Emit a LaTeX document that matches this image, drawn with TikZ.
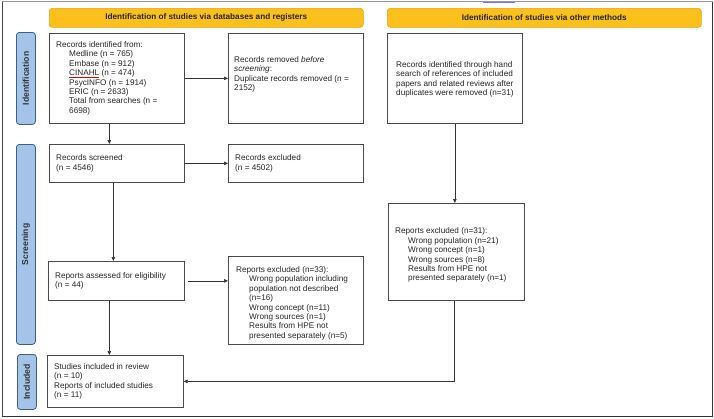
\documentclass[tikz,border=0pt]{standalone}
\usepackage{fontspec}
\setmainfont{Liberation Sans}
\usetikzlibrary{arrows.meta,calc}
\definecolor{banfill}{HTML}{FBC01C}
\definecolor{banedge}{HTML}{E2A60E}
\definecolor{sidefill}{HTML}{A3C4E8}
\definecolor{sideedge}{HTML}{3F5F80}
\definecolor{boxedge}{HTML}{4A4A4A}
\newcommand\redul[1]{\setbox0\hbox{#1}\rlap{\textcolor{red!85!black}{\rule[-1.4pt]{\wd0}{0.6pt}}}#1}
\newcommand\ind{\hspace*{13pt}}
\tikzset{
  txt/.style={font=\fontsize{8.2}{9.4}\selectfont},
  banner/.style={draw=banedge, fill=banfill, rounded corners=3pt, line width=0.6pt,
    anchor=north west, inner sep=0pt, font=\fontsize{8.2}{9}\selectfont\bfseries, text=black!85},
  side/.style={draw=sideedge, fill=sidefill, rounded corners=3pt, line width=0.8pt,
    anchor=north west, inner sep=0pt},
  sidetxt/.style={rotate=90, font=\fontsize{8.6}{9}\selectfont\bfseries, text=black!80},
  flowbox/.style={draw=boxedge, line width=0.7pt, anchor=north west, inner sep=0pt, txt, text=black!80},
  inner/.style={anchor=west, align=left, inner sep=0pt, txt, text=black!85},
  arr/.style={draw=black!80, line width=0.7pt, -{Triangle[length=4pt,width=3.5pt]}},
  conn/.style={draw=black!70, line width=0.7pt}
}
\begin{document}
\begin{tikzpicture}[x=1pt,y=-1pt]
\useasboundingbox (0,0) rectangle (714,418);
% outer frame
\draw[black!40, line width=0.5pt] (2,1.5) -- (712.5,1.5);
\draw[black!75, line width=0.8pt] (2,1.5) -- (2,416.3);
\draw[black!80, line width=1.4pt] (712.6,1.5) -- (712.6,416.5) -- (2,416.5);
\draw[blue!55, line width=0.7pt] (483,2.2) -- (515,2.2);

% banners
\node[banner, minimum width=314pt, minimum height=19pt] (ban1) at (49,8) {Identification of studies via databases and registers};
\node[banner, minimum width=314pt, minimum height=19pt] (ban2) at (387,8) {Identification of studies via other methods};

% side labels
\node[side, minimum width=19pt, minimum height=92pt] (sid) at (16,32) {};
\node[sidetxt] (sidt) at (sid.center) {Identification};
\node[side, minimum width=19pt, minimum height=200pt] (sscr) at (16,144) {};
\node[sidetxt] (sscrt) at (sscr.center) {Screening};
\node[side, minimum width=19pt, minimum height=55pt] (sinc) at (17,354) {};
\node[sidetxt] (sinct) at (sinc.center) {Included};

% boxes
\node[flowbox, minimum width=135pt, minimum height=90pt] (b1) at (49,33) {};
\node[inner] (b1t) at ([xshift=7pt]b1.west) {Records identified from:\\
\ind Medline (n = 765)\\
\ind Embase (n = 912)\\
\ind \redul{CINAHL} (n = 474)\\
\ind PsycINFO (n = 1914)\\
\ind ERIC (n = 2633)\\
\ind Total from searches (n =\\
\ind 6698)};

\node[flowbox, minimum width=134.5pt, minimum height=90pt] (b2) at (228,33) {};
\node[inner] (b2t) at ([xshift=6pt,yshift=4pt]b2.west) {Records removed \textit{before}\\
\textit{screening}:\\
Duplicate records removed (n =\\
2152)};

\node[flowbox, minimum width=135pt, minimum height=90pt] (hs) at (387,33) {};
\node[inner] (hst) at ([xshift=9pt,yshift=-1pt]hs.west) {Records identified through hand\\
search of references of included\\
papers and related reviews after\\
duplicates were removed (n=31)};

\node[flowbox, minimum width=135pt, minimum height=38pt] (scr) at (49,144) {};
\node[inner] (scrt) at ([xshift=7pt]scr.west) {Records screened\\(n = 4546)};

\node[flowbox, minimum width=134.5pt, minimum height=38pt] (rex) at (228,144) {};
\node[inner] (rext) at ([xshift=7pt]rex.west) {Records excluded\\(n = 4502)};

\node[flowbox, minimum width=136pt, minimum height=39pt] (asm) at (48,261) {};
\node[inner] (asmt) at ([xshift=7pt]asm.west) {Reports assessed for eligibility\\(n = 44)};

\node[flowbox, minimum width=134.5pt, minimum height=88pt] (rx33) at (228,256) {};
\node[inner] (rx33t) at ([xshift=8pt,yshift=-3pt]rx33.west) {Reports excluded (n=33):\\
\ind Wrong population including\\
\ind population not described\\
\ind (n=16)\\
\ind Wrong concept (n=11)\\
\ind Wrong sources (n=1)\\
\ind Results from HPE not\\
\ind presented separately (n=5)};

\node[flowbox, minimum width=136pt, minimum height=97pt] (rx31) at (388,203) {};
\node[inner] (rx31t) at ([xshift=7pt,yshift=-3.5pt]rx31.west) {Reports excluded (n=31):\\
\ind Wrong population (n=21)\\
\ind Wrong concept (n=1)\\
\ind Wrong sources (n=8)\\
\ind Results from HPE not\\
\ind presented separately (n=1)};

\node[flowbox, minimum width=136pt, minimum height=52pt] (inc) at (47,355) {};
\node[inner] (inct) at ([xshift=7pt]inc.west) {Studies included in review\\
(n = 10)\\
Reports of included studies\\
(n = 11)};

% connectors
\draw[arr] (b1.east) -- (b2.west);
\draw[arr] ([xshift=-7.5pt]b1.south) -- ([xshift=-7.5pt]b1.south |- scr.north);
\draw[arr] (scr.east) -- (rex.west);
\draw[arr] ([xshift=-3.5pt]scr.south) -- ([xshift=-3.5pt]scr.south |- asm.north);
\draw[arr, shorten <=3pt] (asm.east) -- (asm.east -| rx33.west);
\draw[arr] ([xshift=-7pt]asm.south) -- ([xshift=-7pt]asm.south |- inc.north);
\draw[arr] (hs.south) -- (hs.south |- rx31.north);
\draw[arr] ([xshift=-2pt]rx31.south) |- (inc.east);
\end{tikzpicture}
\end{document}
